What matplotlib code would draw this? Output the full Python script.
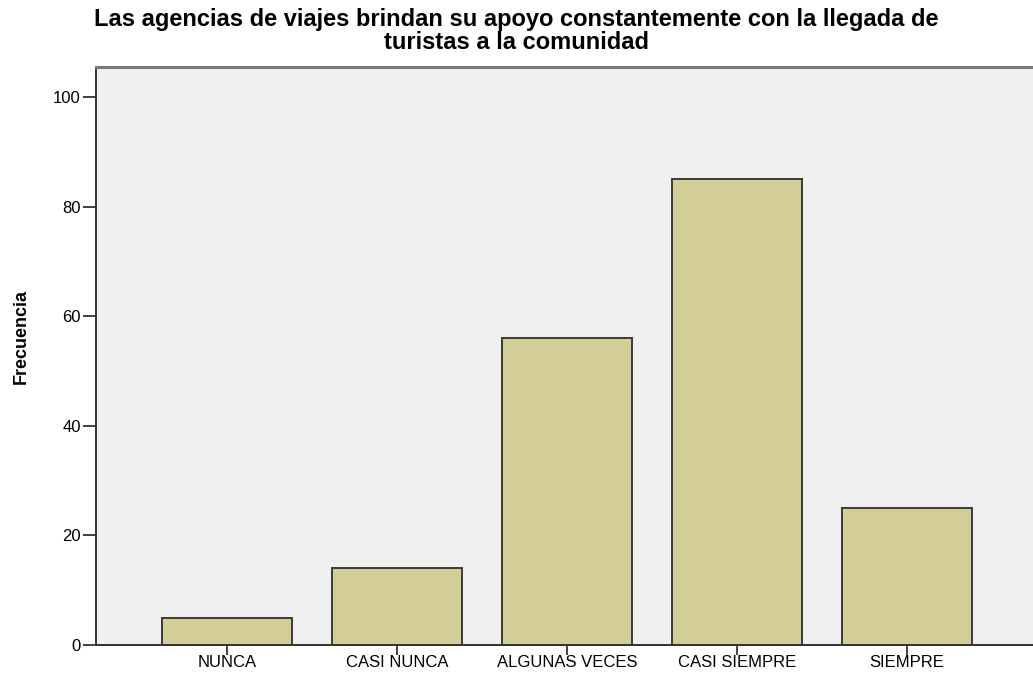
import matplotlib
matplotlib.use("Agg")
import matplotlib.pyplot as plt
import numpy as np

# Datos de la grafica
categorias = ['NUNCA', 'CASI NUNCA', 'ALGUNAS VECES', 'CASI SIEMPRE', 'SIEMPRE']
frecuencias = [5, 14, 56, 85, 25]
ticks_y = [0, 20, 40, 60, 80, 100]

plt.rcParams['font.family'] = ['Liberation Sans', 'DejaVu Sans']

W, H = 1033, 679
fig = plt.figure(figsize=(W / 100, H / 100), dpi=100)
# Zona del grafico en pixeles (el borde derecho queda fuera de la imagen)
izq, der, arr, aba = 96, 1038, 67, 645
ax = fig.add_axes([izq / W, (H - aba) / H, (der - izq) / W, (aba - arr) / H])
ax.set_facecolor('#f0f0f0')

x = np.arange(len(categorias))
ax.bar(x, frecuencias, width=0.76, color='#d3ce97',
       edgecolor='#3a3a3a', linewidth=1.4, zorder=2)

ax.set_xlim(-0.77, len(categorias) - 1 + 0.77)
ax.set_ylim(0, 105.5)
ax.set_xticks(x)
ax.set_xticklabels(categorias, fontsize=12)
ax.set_yticks(ticks_y)
ax.set_yticklabels([str(t) for t in ticks_y], fontsize=12)
ax.tick_params(axis='y', direction='out', length=9.5, width=1.3,
               color='#333333', pad=1.5)
ax.tick_params(axis='x', direction='out', length=7, width=1.3,
               color='#333333', pad=0.5)

for lado in ['left', 'bottom']:
    ax.spines[lado].set_color('#333333')
    ax.spines[lado].set_linewidth(1.4)
ax.spines['top'].set_color('#7a7a7a')
ax.spines['top'].set_linewidth(2.2)
ax.spines['right'].set_visible(False)

ax.set_ylabel('Frecuencia', fontsize=13, fontweight='bold')
ax.yaxis.set_label_coords(-0.070, 0.533)
fig.text(0.5, 1 - 31 / H,
         'Las agencias de viajes brindan su apoyo constantemente con la llegada de\nturistas a la comunidad',
         ha='center', va='center', fontsize=17, fontweight='bold',
         linespacing=0.98)

plt.savefig('out.png', dpi=100)
